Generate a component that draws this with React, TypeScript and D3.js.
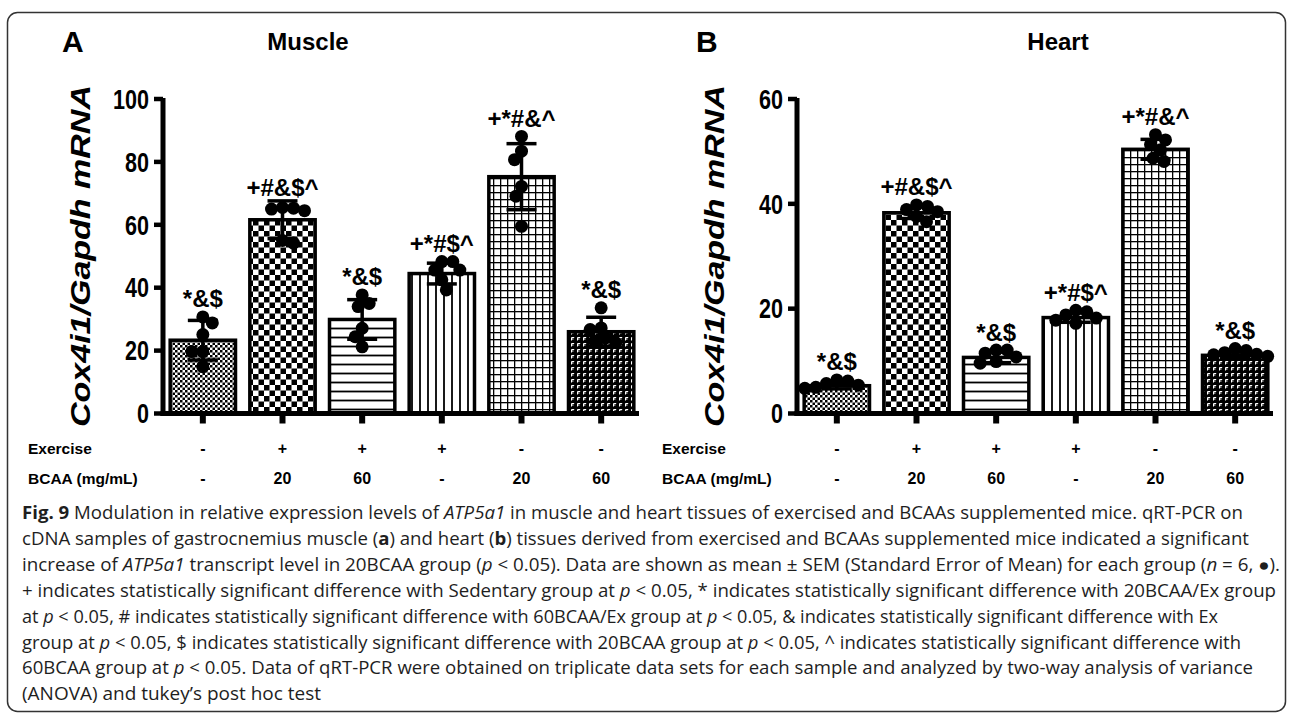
import React from "react";
import * as d3 from "d3";

// ---------- data ----------
const groups = ["Sedentary", "20BCAA/Ex", "60BCAA/Ex", "Ex", "20BCAA", "60BCAA"];
const exerciseRow = ["-", "+", "+", "+", "-", "-"];
const bcaaRow = ["-", "20", "60", "-", "20", "60"];

const muscleTicks = [0, 20, 40, 60, 80, 100];
const muscleMeans = [23.3, 61.6, 29.9, 44.5, 75.3, 26.0];
const muscleErr = [6.3, 6.0, 6.3, 3.3, 10.5, 4.6];
const musclePoints = [
  [28.8, 30.7, 25.1, 19.7, 19.7, 14.9],
  [65.3, 65.0, 64.5, 65.5, 54.2, 55.0],
  [35.0, 37.7, 34.0, 27.1, 24.4, 21.2],
  [45.6, 48.3, 48.3, 45.6, 39.3, 42.5],
  [88.1, 83.4, 80.7, 72.2, 69.1, 59.5],
  [33.6, 27.2, 26.7, 24.0, 22.5, 23.0],
];
const muscleSig = ["*&$", "+#&$^", "*&$", "+*#$^", "+*#&^", "*&$"];

const heartTicks = [0, 20, 40, 60];
const heartMeans = [5.3, 38.3, 10.7, 18.3, 50.4, 11.1];
const heartErr = [0.6, 1.1, 1.0, 0.9, 1.9, 0.6];
const heartPoints = [
  [5.7, 6.4, 6.2, 5.0, 4.8, 5.4],
  [38.9, 39.5, 36.6, 39.8, 38.5, 37.6],
  [11.5, 12.1, 12.1, 9.6, 9.9, 10.8],
  [18.2, 19.4, 19.7, 18.8, 17.2, 17.8],
  [50.3, 53.2, 52.2, 51.3, 48.1, 48.7],
  [11.2, 12.0, 12.4, 11.6, 10.9, 11.3],
];
const heartSig = ["*&$", "+#&$^", "*&$", "+*#$^", "+*#&^", "*&$"];

const yLabel = "Cox4i1/Gapdh mRNA";

// ---------- layout ----------
const W = 1292;
const H = 719;
const BASE_Y = 413.5;
const TOP_Y = 99;
const FONT = "'Liberation Sans', Arial, Helvetica, sans-serif";
const patternIds = ["pFine", "pCheck", "pHoriz", "pVert", "pGrid", "pBrick"];
const DOT_R = 6.5;

function swarm(ys: number[], minDist: number): number[] {
  const idx = ys.map((_, i) => i).sort((a, b) => ys[a] - ys[b]);
  const placed: { x: number; y: number }[] = [];
  const xs = new Array(ys.length).fill(0);
  idx.forEach((i, k) => {
    const y = ys[i];
    let best = 0;
    for (let s = 0; s < 60; s += 0.5) {
      const cands = s === 0 ? [0] : k % 2 === 0 ? [-s, s] : [s, -s];
      let found: number | null = null;
      for (const c of cands) {
        if (placed.every((p) => Math.hypot(p.x - c, p.y - y) >= minDist)) {
          found = c;
          break;
        }
      }
      if (found !== null) {
        best = found;
        break;
      }
    }
    xs[i] = best;
    placed.push({ x: best, y });
  });
  return xs;
}

type PanelProps = {
  x0: number;
  letter: string;
  title: string;
  titleX: number;
  ticks: number[];
  means: number[];
  errs: number[];
  points: number[][];
  sig: string[];
};

function Panel({ x0, letter, title, titleX, ticks, means, errs, points, sig }: PanelProps) {
  const x = d3.scaleBand<string>().domain(groups).range([x0, x0 + 478]).paddingInner(0.18).paddingOuter(0.09);
  const yMax = ticks[ticks.length - 1];
  const y = d3.scaleLinear().domain([0, yMax]).range([BASE_Y, TOP_Y]);
  const bw = x.bandwidth();
  const capHalf = 15;

  return (
    <g>
      <text x={x0 - 101} y={52} fontFamily={FONT} fontWeight="bold" fontSize={30}>
        {letter}
      </text>
      <text x={titleX} y={50} fontFamily={FONT} fontWeight="bold" fontSize={24} textAnchor="middle">
        {title}
      </text>
      {/* y label */}
      <text
        transform={`translate(${x0 - 73},256) rotate(-90)`}
        fontFamily={FONT}
        fontWeight="bold"
        fontStyle="italic"
        fontSize={28}
        textAnchor="middle"
        textLength={342}
        lengthAdjust="spacingAndGlyphs"
      >
        {yLabel}
      </text>
      {/* bars */}
      {groups.map((g, i) => (
        <rect
          key={"bar" + i}
          x={x(g)}
          y={y(means[i])}
          width={bw}
          height={BASE_Y - y(means[i])}
          fill={`url(#${patternIds[i]})`}
          stroke="#000"
          strokeWidth={3.5}
        />
      ))}
      {/* error bars */}
      {groups.map((g, i) => {
        const cx = (x(g) as number) + bw / 2;
        const yt = y(means[i] + errs[i]);
        const yb = y(means[i] - errs[i]);
        return (
          <g key={"err" + i} stroke="#000" strokeWidth={3.5}>
            <line x1={cx} x2={cx} y1={yt} y2={yb} />
            <line x1={cx - capHalf} x2={cx + capHalf} y1={yt} y2={yt} />
            <line x1={cx - capHalf} x2={cx + capHalf} y1={yb} y2={yb} />
          </g>
        );
      })}
      {/* dots */}
      {groups.map((g, i) => {
        const cx = (x(g) as number) + bw / 2;
        const ys = points[i].map((v) => y(v));
        const offs = swarm(ys, 11);
        return (
          <g key={"dots" + i}>
            {ys.map((yy, j) => (
              <circle key={j} cx={cx + offs[j]} cy={yy} r={DOT_R} fill="#000" />
            ))}
          </g>
        );
      })}
      {/* significance labels */}
      {groups.map((g, i) => {
        const cx = (x(g) as number) + bw / 2;
        const topDot = Math.min(...points[i].map((v) => y(v))) - DOT_R;
        const topCap = y(means[i] + errs[i]) - 2;
        const yy = Math.min(topDot, topCap) - 3;
        return (
          <text key={"sig" + i} x={cx} y={yy} fontFamily={FONT} fontWeight="bold" fontSize={24} textAnchor="middle">
            {sig[i]}
          </text>
        );
      })}
      {/* y axis */}
      <line x1={x0} x2={x0} y1={TOP_Y - 1} y2={BASE_Y + 2.5} stroke="#000" strokeWidth={5} />
      {ticks.map((t) => (
        <g key={"yt" + t}>
          <line x1={x0 - 9} x2={x0} y1={y(t)} y2={y(t)} stroke="#000" strokeWidth={4.5} />
          <text
            x={x0 - 14}
            y={y(t)}
            dy="0.36em"
            fontFamily={FONT}
            fontWeight="bold"
            fontSize={27}
            textAnchor="end"
            textLength={String(t).length * 12}
            lengthAdjust="spacingAndGlyphs"
          >
            {t}
          </text>
        </g>
      ))}
      {/* x axis */}
      <line x1={x0 - 2.5} x2={x0 + 476} y1={BASE_Y} y2={BASE_Y} stroke="#000" strokeWidth={5} />
      {groups.map((g) => (
        <rect key={"xt" + g} x={(x(g) as number) + bw / 2 - 3} y={BASE_Y} width={6} height={10} fill="#000" />
      ))}
      {/* row labels */}
      <text x={x0 - 135} y={448} dy="0.36em" fontFamily={FONT} fontWeight="bold" fontSize={15.5}>
        Exercise
      </text>
      <text x={x0 - 135} y={478} dy="0.36em" fontFamily={FONT} fontWeight="bold" fontSize={15.5}>
        BCAA (mg/mL)
      </text>
      {groups.map((g, i) => (
        <g key={"row" + i}>
          <text x={(x(g) as number) + bw / 2} y={448} dy="0.36em" fontFamily={FONT} fontWeight="bold" fontSize={16} textAnchor="middle">
            {exerciseRow[i]}
          </text>
          <text x={(x(g) as number) + bw / 2} y={478} dy="0.36em" fontFamily={FONT} fontWeight="bold" fontSize={16} textAnchor="middle">
            {bcaaRow[i]}
          </text>
        </g>
      ))}
    </g>
  );
}

const CAP_FONT = "'Open Sans', 'Noto Sans', sans-serif";
const captionEnds = [1243, 1249, 1280, 1276, 1218, 1241, 1253, 321];

export default function App() {
  const capX = 22;
  const capY0 = 519;
  const capDy = 25.9;
  const capLine = (i: number, children: React.ReactNode) => (
    <text
      key={"cap" + i}
      x={capX}
      y={capY0 + i * capDy}
      fontFamily={CAP_FONT}
      fontSize={17.5}
      fill="#1e1e1e"
      textLength={captionEnds[i] - capX}
      lengthAdjust="spacingAndGlyphs"
    >
      {children}
    </text>
  );
  const I = (s: string) => <tspan fontStyle="italic">{s}</tspan>;
  const B = (s: string) => <tspan fontWeight="bold">{s}</tspan>;

  return (
    <svg
      width={W}
      height={H}
      viewBox={`0 0 ${W} ${H}`}
      style={{ position: "absolute", left: 0, top: 0, background: "#fff" }}
    >
      <defs>
        <pattern id="pFine" patternUnits="userSpaceOnUse" width={5} height={5}>
          <rect width={5} height={5} fill="#fff" />
          <rect width={2.5} height={2.5} fill="#000" />
          <rect x={2.5} y={2.5} width={2.5} height={2.5} fill="#000" />
        </pattern>
        <pattern id="pCheck" patternUnits="userSpaceOnUse" width={11} height={11}>
          <rect width={11} height={11} fill="#fff" />
          <rect width={5.5} height={5.5} fill="#000" />
          <rect x={5.5} y={5.5} width={5.5} height={5.5} fill="#000" />
        </pattern>
        <pattern id="pHoriz" patternUnits="userSpaceOnUse" width={9} height={9}>
          <rect width={9} height={9} fill="#fff" />
          <rect y={3.6} width={9} height={1.8} fill="#000" />
        </pattern>
        <pattern id="pVert" patternUnits="userSpaceOnUse" width={8} height={8}>
          <rect width={8} height={8} fill="#fff" />
          <rect x={3.1} width={1.8} height={8} fill="#000" />
        </pattern>
        <pattern id="pGrid" patternUnits="userSpaceOnUse" width={7} height={7}>
          <rect width={7} height={7} fill="#fff" />
          <rect x={3} width={1.3} height={7} fill="#000" />
          <rect y={3} width={7} height={1.3} fill="#000" />
        </pattern>
        <pattern id="pBrick" patternUnits="userSpaceOnUse" width={6} height={6}>
          <rect width={6} height={6} fill="#000" />
          <path d="M1.5,4.5 V1.5 H4.2 M1.5,3 H3.5" stroke="#fff" strokeWidth={1} fill="none" />
        </pattern>
      </defs>

      <rect x={7.5} y={12.5} width={1278} height={699} rx={10} ry={10} fill="#fff" stroke="#333" strokeWidth={1.5} />

      <Panel
        x0={163}
        letter="A"
        title="Muscle"
        titleX={308}
        ticks={muscleTicks}
        means={muscleMeans}
        errs={muscleErr}
        points={musclePoints}
        sig={muscleSig}
      />
      <Panel
        x0={797}
        letter="B"
        title="Heart"
        titleX={1058}
        ticks={heartTicks}
        means={heartMeans}
        errs={heartErr}
        points={heartPoints}
        sig={heartSig}
      />

      {capLine(0, <>{B("Fig. 9")} Modulation in relative expression levels of {I("ATP5a1")} in muscle and heart tissues of exercised and BCAAs supplemented mice. qRT-PCR on</>)}
      {capLine(1, <>cDNA samples of gastrocnemius muscle ({B("a")}) and heart ({B("b")}) tissues derived from exercised and BCAAs supplemented mice indicated a significant</>)}
      {capLine(2, <>increase of {I("ATP5a1")} transcript level in 20BCAA group ({I("p")} {"<"} 0.05). Data are shown as mean ± SEM (Standard Error of Mean) for each group ({I("n")} = 6, ●).</>)}
      {capLine(3, <>+ indicates statistically significant difference with Sedentary group at {I("p")} {"<"} 0.05, * indicates statistically significant difference with 20BCAA/Ex group</>)}
      {capLine(4, <>at {I("p")} {"<"} 0.05, # indicates statistically significant difference with 60BCAA/Ex group at {I("p")} {"<"} 0.05, &amp; indicates statistically significant difference with Ex</>)}
      {capLine(5, <>group at {I("p")} {"<"} 0.05, $ indicates statistically significant difference with 20BCAA group at {I("p")} {"<"} 0.05, ^ indicates statistically significant difference with</>)}
      {capLine(6, <>60BCAA group at {I("p")} {"<"} 0.05. Data of qRT-PCR were obtained on triplicate data sets for each sample and analyzed by two-way analysis of variance</>)}
      {capLine(7, <>(ANOVA) and tukey’s post hoc test</>)}
    </svg>
  );
}
